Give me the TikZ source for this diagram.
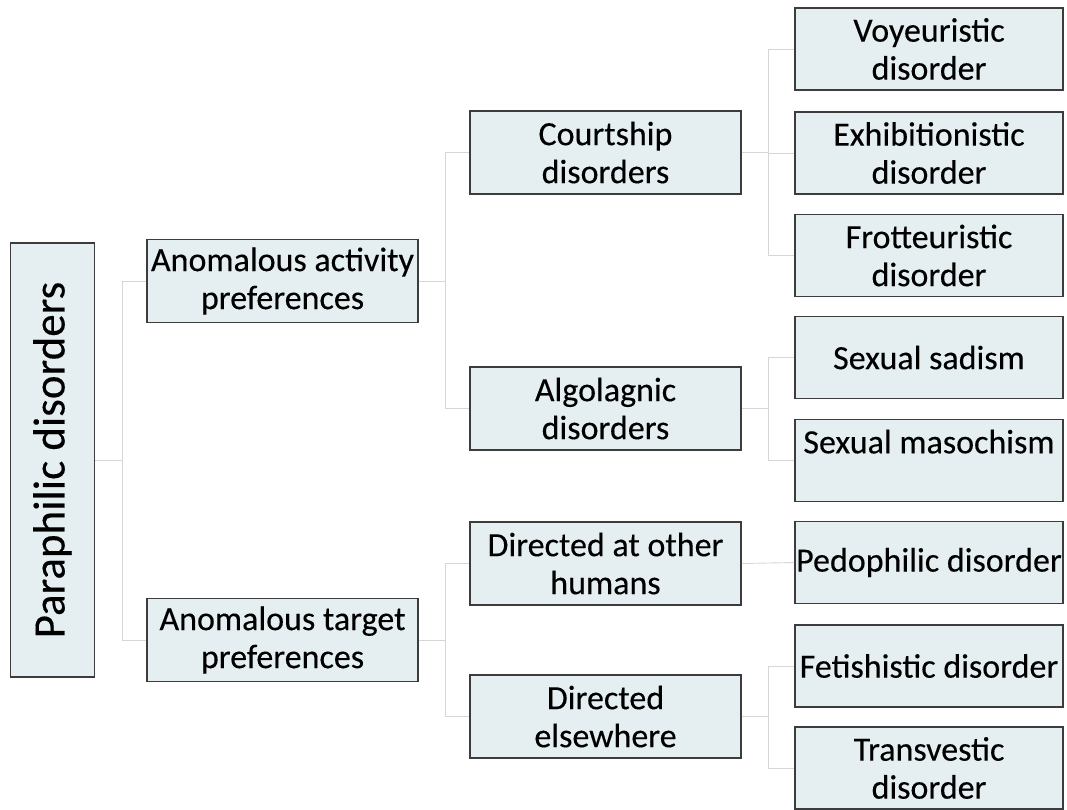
\documentclass[tikz,border=0pt]{standalone}
\usepackage{fontspec}
\setmainfont{Carlito}[FakeBold=0.25]
\definecolor{boxfill}{HTML}{E5EFF1}
\definecolor{boxline}{HTML}{3C3C3C}
\definecolor{connline}{HTML}{D6D6D6}
\tikzset{
  box/.style={draw=boxline, fill=boxfill, line width=1.6pt, rectangle, inner sep=0pt,
    minimum width=271pt, minimum height=83pt, align=center,
    font=\fontsize{34}{38}\selectfont},
  leaf/.style={box, minimum width=268pt, minimum height=82pt},
  conn/.style={draw=connline, line width=0.9pt}
}
\begin{document}
\begin{tikzpicture}[x=1pt,y=-1pt]
\useasboundingbox (0,0) rectangle (1067,809);
% root
\node[box, minimum width=84pt, minimum height=434pt] (root) at (52.5,460) {};
\node[rotate=90, font=\fontsize{45}{50}\selectfont] (roottext) at (root.center) {Paraphilic disorders};
% level 1
\node[box] (aap) at (282.5,281) {Anomalous activity\\preferences};
\node[box] (atp) at (282.5,640) {Anomalous target\\preferences};
% level 2
\node[box] (court) at (605.5,152.5) {Courtship\\disorders};
\node[box] (algo) at (605.5,408.5) {Algolagnic\\disorders};
\node[box] (dhum) at (605.5,563.5) {Directed at other\\humans};
\node[box] (dels) at (605.5,716.5) {Directed\\elsewhere};
% level 3
\node[leaf] (voy) at (929,49) {Voyeuristic\\disorder};
\node[leaf] (exh) at (929,153) {Exhibitionistic\\disorder};
\node[leaf] (frot) at (929,255.5) {Frotteuristic\\disorder};
\node[leaf] (sad) at (929,357.5) {Sexual sadism};
\node[leaf] (mas) at (929,460.5) {Sexual masochism\\\mbox{}};
\node[leaf] (ped) at (929,562.5) {Pedophilic disorder};
\node[leaf] (fet) at (929,666) {Fetishistic disorder};
\node[leaf] (trans) at (929,768) {Transvestic\\disorder};
% connectors
\draw[conn] (root.east) -- ++(27.5,0) |- (aap.west);
\draw[conn] (root.east) -- ++(27.5,0) |- (atp.west);
\draw[conn] (aap.east) -- ++(27,0) |- (court.west);
\draw[conn] (aap.east) -- ++(27,0) |- (algo.west);
\draw[conn] (atp.east) -- ++(27,0) |- (dhum.west);
\draw[conn] (atp.east) -- ++(27,0) |- (dels.west);
\draw[conn] (court.east) -- ++(27,0) |- (voy.west);
\draw[conn] (court.east) -- ++(27,0) |- (exh.west);
\draw[conn] (court.east) -- ++(27,0) |- (frot.west);
\draw[conn] (algo.east) -- ++(27,0) |- (sad.west);
\draw[conn] (algo.east) -- ++(27,0) |- (mas.west);
\draw[conn] (dhum.east) -- (ped.west);
\draw[conn] (dels.east) -- ++(27,0) |- (fet.west);
\draw[conn] (dels.east) -- ++(27,0) |- (trans.west);
\end{tikzpicture}
\end{document}
